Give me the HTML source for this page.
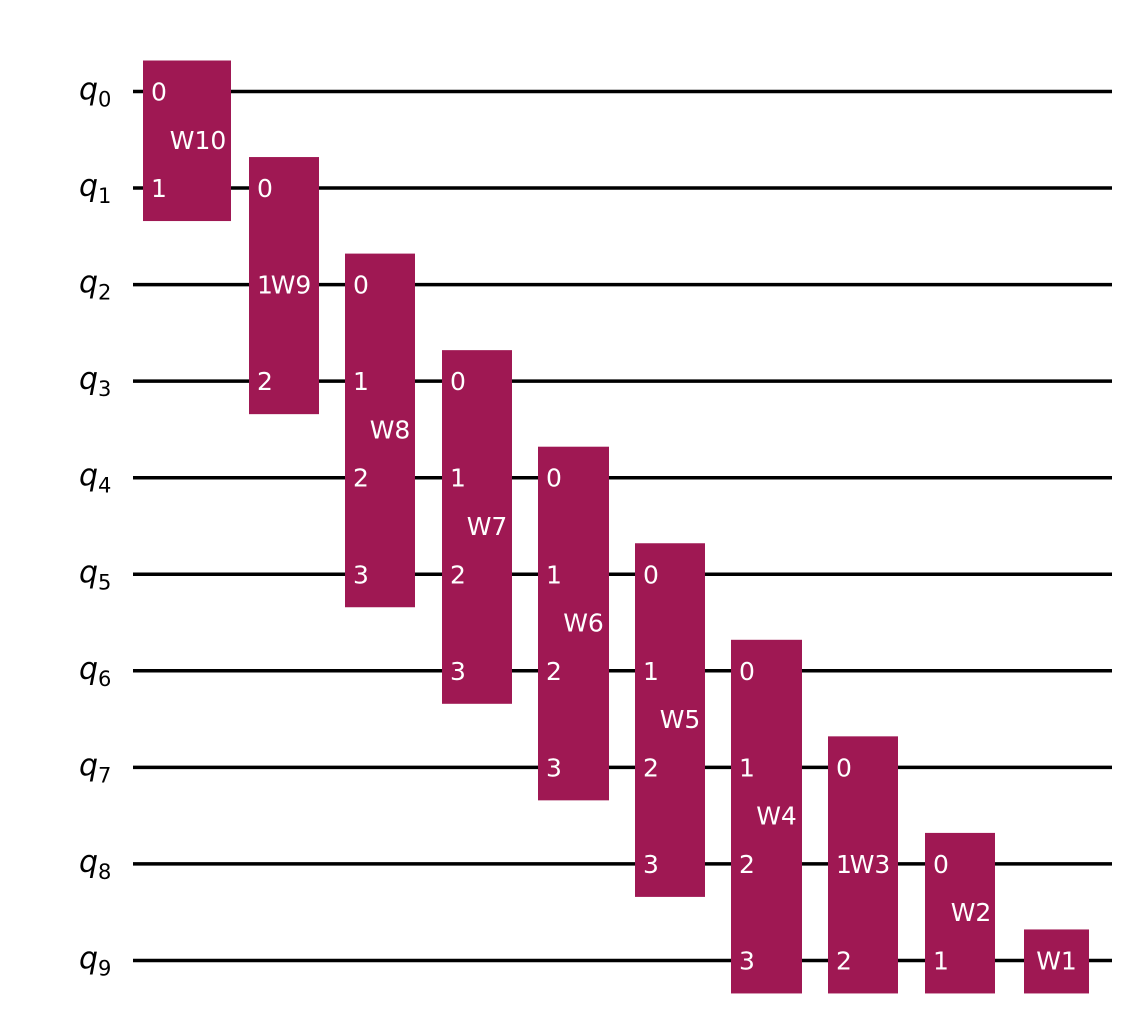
<!DOCTYPE html>
<html><head><meta charset="utf-8"><style>
html,body{margin:0;padding:0;background:#fff;}
svg{display:block;font-family:"DejaVu Sans","Liberation Sans",sans-serif;}
</style></head><body>
<svg id="c" width="1134" height="1034"></svg>
<script>
const qubits=[0,1,2,3,4,5,6,7,8,9];
const gateNames=["W10","W9","W8","W7","W6","W5","W4","W3","W2","W1"];
const gateStart=[0,1,2,3,4,5,6,7,8,9];
const gateSpan=[2,3,4,4,4,4,4,3,2,1];
const gateCol=[0,1,2,3,4,5,6,7,8,9];
const NS="http://www.w3.org/2000/svg";
const svg=document.getElementById('c');
const wy=q=>91.5+q*96.55;
const colLeft=[143,249,345,442,538,635,731,828,925,1024];
const colW=[88,70,70,70,71,70,71,70,70,65];
function mk(t,a){const e=document.createElementNS(NS,t);for(const k in a)e.setAttribute(k,a[k]);svg.appendChild(e);return e;}
qubits.forEach(q=>{
  const l=mk('line',{x1:133,x2:1112,y1:wy(q),y2:wy(q),stroke:'#000','stroke-width':3.5});
  
  
  const t=mk('text',{x:79,y:wy(q)+8,'font-size':30,'font-style':'italic',fill:'#000'});
  
  
  t.innerHTML='q<tspan font-size="21" font-style="normal" dy="7">'+q+'</tspan>';
});
gateNames.forEach((n,i)=>{
  const s=gateStart[i],sp=gateSpan[i],c=gateCol[i];
  const x=colLeft[c],w=colW[c];
  const top=wy(s)-31,bot=wy(s+sp-1)+33;
  const r=mk('rect',{x:x,y:top,width:w,height:bot-top,fill:'#9F1853'});
  
  
  if(sp>1){
    for(let k=0;k<sp;k++){
      const t=mk('text',{x:x+8,y:wy(s+k)+9,'font-size':25,fill:'#fff'});
      t.textContent=k;
      
      
    }
  }
  const cy=(top+bot)/2;
  const tx=sp>1?x+w/2+(sp===2?11:(sp===3?7:10)):x+w/2;
  const t=mk('text',{x:tx,y:cy+8,'font-size':25,fill:'#fff','text-anchor':'middle'});
  t.textContent=n;
  
  
});
</script>
</body></html>
